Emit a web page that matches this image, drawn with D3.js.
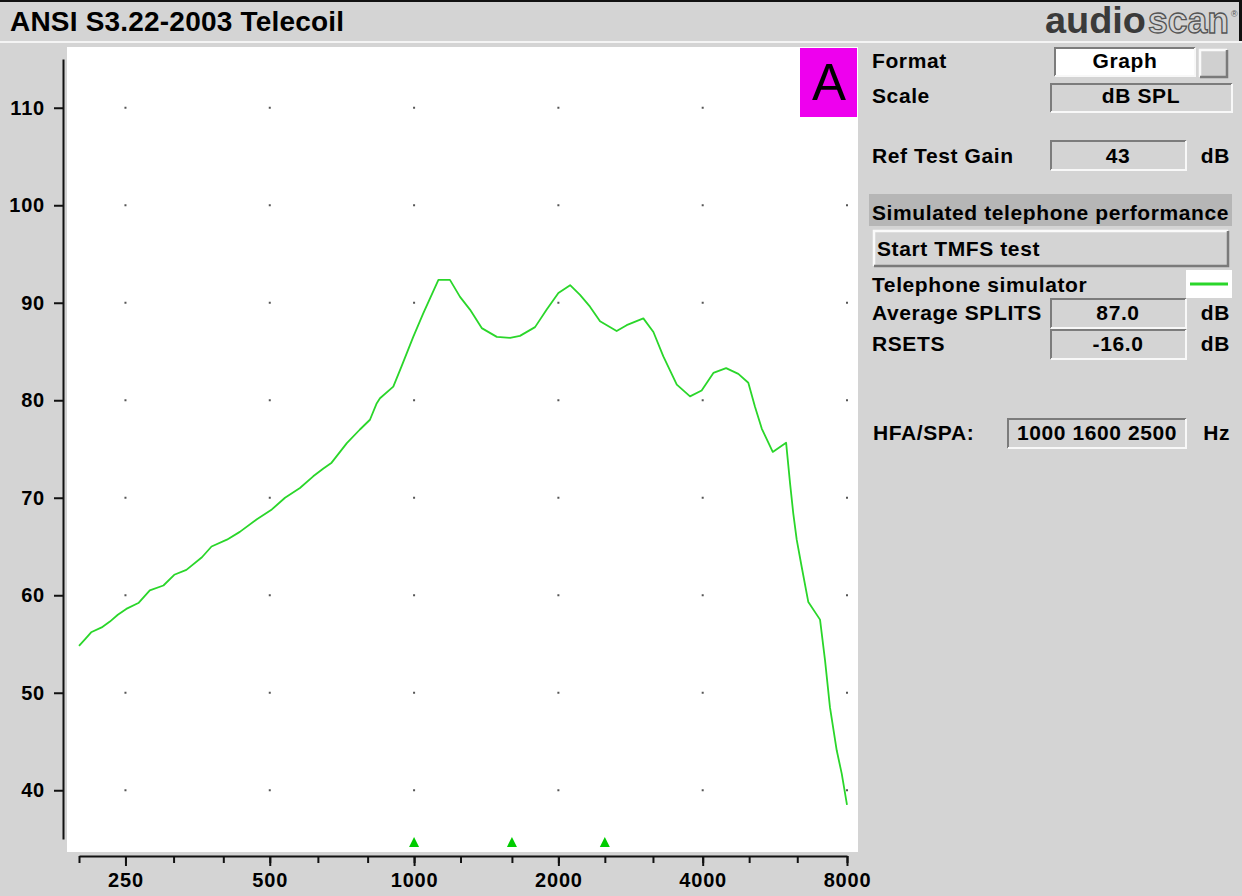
<!DOCTYPE html>
<html>
<head>
<meta charset="utf-8">
<script src="https://cdn.jsdelivr.net/npm/d3@7"></script>
<style>
  html, body { margin: 0; padding: 0; background: #d4d4d4; }
  svg { display: block; }
  text { font-family: "Liberation Sans", Arial, sans-serif; }
</style>
</head>
<body>
<svg id="chart" width="1242" height="896"></svg>
<script>
// ---------- data ----------
const freqs = [200, 206, 212, 223, 232, 241, 251, 266, 281, 300, 316, 335, 361, 378, 407, 433, 470, 505, 538, 578, 616, 647, 673, 724, 771, 809, 836, 849, 905, 942, 996, 1045, 1124, 1188, 1247, 1308, 1384, 1488, 1586, 1663, 1788, 1891, 2000, 2116, 2219, 2328, 2443, 2646, 2776, 3008, 3157, 3311, 3532, 3764, 3980, 4211, 4476, 4747, 4980, 5144, 5312, 5600, 5971, 6085, 6180, 6283, 6436, 6644, 7028, 7200, 7372, 7614, 7800, 8000];
const splDb = [54.8, 55.5, 56.2, 56.7, 57.3, 58.0, 58.6, 59.2, 60.5, 61.0, 62.1, 62.6, 63.9, 65.0, 65.7, 66.5, 67.8, 68.8, 70.0, 71.0, 72.2, 73.0, 73.6, 75.6, 77.0, 78.0, 79.7, 80.2, 81.4, 83.5, 86.5, 88.9, 92.35, 92.35, 90.6, 89.3, 87.4, 86.5, 86.4, 86.6, 87.5, 89.3, 91.0, 91.8, 90.8, 89.6, 88.1, 87.1, 87.7, 88.4, 87.0, 84.5, 81.6, 80.4, 81.0, 82.8, 83.3, 82.7, 81.8, 79.3, 77.1, 74.7, 75.65, 71.5, 68.4, 65.7, 62.9, 59.3, 57.5, 53.3, 48.5, 44.1, 41.7, 38.5];
const thirdOctaveTicks = [200, 250, 315, 400, 500, 630, 800, 1000, 1250, 1600, 2000, 2500, 3150, 4000, 5000, 6300, 8000];
const labelFreqs = [250, 500, 1000, 2000, 4000, 8000];
const yTicks = [40, 50, 60, 70, 80, 90, 100, 110];
const hfaFreqs = [1000, 1600, 2500];

const title = "ANSI S3.22-2003 Telecoil";
const panelRows = {
  format: "Graph", scale: "dB SPL", refTestGain: "43",
  avgSplits: "87.0", rsets: "-16.0", hfa: "1000 1600 2500"
};

// ---------- setup ----------
const svg = d3.select("#chart");
const BG = "#d4d4d4";
const GREEN = "#2ad62a";

svg.append("rect").attr("width", 1242).attr("height", 896).attr("fill", BG);

// title bar
svg.append("rect").attr("x", 0).attr("y", 0).attr("width", 1242).attr("height", 2).attr("fill", "#111");
svg.append("rect").attr("x", 1239).attr("y", 0).attr("width", 3).attr("height", 41).attr("fill", "#111");
svg.append("rect").attr("x", 0).attr("y", 41).attr("width", 1242).attr("height", 2).attr("fill", "#f4f4f4");
svg.append("text").attr("x", 10).attr("y", 31)
  .attr("font-size", 28).attr("font-weight", "bold").attr("fill", "#000")
  .attr("letter-spacing", 0.2).text(title);

// logo
const logo = svg.append("g");
logo.append("text").attr("x", 1045).attr("y", 33).attr("font-size", 36).attr("font-weight", "bold")
  .attr("fill", "#3a3a3a").attr("textLength", 101).attr("lengthAdjust", "spacingAndGlyphs").text("audio");
logo.append("text").attr("x", 1148).attr("y", 33).attr("font-size", 36).attr("font-weight", "bold")
  .attr("fill", BG).attr("stroke", "#555").attr("stroke-width", 1.3)
  .attr("textLength", 81).attr("lengthAdjust", "spacingAndGlyphs").text("scan");
logo.append("text").attr("x", 1231).attr("y", 17).attr("font-size", 9).attr("fill", "#555").text("®");

// ---------- plot ----------
const x = d3.scaleLog().domain([200, 8000]).range([79, 847]);
const y = d3.scaleLinear().domain([35, 115]).range([839, 59]);

svg.append("rect").attr("x", 67).attr("y", 47).attr("width", 791).attr("height", 805).attr("fill", "#fff");

// grid dots
const dots = [];
labelFreqs.forEach(f => yTicks.forEach(v => dots.push([f, v])));
svg.append("g").selectAll("rect").data(dots).join("rect")
  .attr("x", d => x(d[0]) - 1).attr("y", d => y(d[1]) - 1)
  .attr("width", 2).attr("height", 2).attr("fill", "#555");

// axes
const axisFont = g => g.selectAll("text")
  .attr("font-family", "Liberation Sans, Arial, sans-serif")
  .attr("font-size", 20).attr("font-weight", "bold").attr("fill", "#000")
  .attr("letter-spacing", 0.8);

const xMinor = svg.append("g").attr("transform", "translate(0,856)")
  .call(d3.axisBottom(x).tickValues(thirdOctaveTicks).tickSize(7).tickSizeOuter(0).tickFormat(""));
const xMajor = svg.append("g").attr("transform", "translate(0,856)")
  .call(d3.axisBottom(x).tickValues(labelFreqs).tickSize(10).tickSizeOuter(0).tickPadding(7).tickFormat(d3.format("d")));
xMajor.select(".domain").remove();
[xMinor, xMajor].forEach(g => {
  g.selectAll("line").attr("stroke", "#111").attr("stroke-width", 2);
  g.select(".domain").attr("stroke", "#111").attr("stroke-width", 2);
});
xMajor.call(axisFont);

const yAx = svg.append("g").attr("transform", "translate(63,0)")
  .call(d3.axisLeft(y).tickValues(yTicks).tickSize(9).tickSizeOuter(0).tickPadding(9).tickFormat(d3.format("d")));
yAx.selectAll("line").attr("stroke", "#111").attr("stroke-width", 2);
yAx.select(".domain").attr("stroke", "#111").attr("stroke-width", 2);
yAx.call(axisFont);

// curve
const data = freqs.map((f, i) => ({ f, v: splDb[i] }));
svg.append("path").datum(data)
  .attr("fill", "none").attr("stroke", GREEN).attr("stroke-width", 1.8)
  .attr("stroke-linejoin", "round")
  .attr("d", d3.line().x(d => x(d.f)).y(d => y(d.v)));

// HFA triangles
svg.append("g").selectAll("path").data(hfaFreqs).join("path")
  .attr("d", f => { const cx = x(f); return `M${cx - 5},847 L${cx + 5},847 L${cx},837 Z`; })
  .attr("fill", "#00cc00");

// "A" badge
svg.append("rect").attr("x", 800).attr("y", 48).attr("width", 57).attr("height", 69).attr("fill", "#ee00ee");
svg.append("text").attr("x", 829).attr("y", 100).attr("text-anchor", "middle")
  .attr("font-size", 51).attr("fill", "#000").text("A");

// ---------- right panel ----------
const panel = svg.append("g");
function label(txt, xx, yy, anchor) {
  panel.append("text").attr("x", xx).attr("y", yy).attr("text-anchor", anchor || "start")
    .attr("font-size", 21).attr("font-weight", "bold").attr("fill", "#000")
    .attr("letter-spacing", 0.6).text(txt);
}
function sunken(x0, y0, w, h, fill) {
  panel.append("rect").attr("x", x0).attr("y", y0).attr("width", w).attr("height", h).attr("fill", fill);
  panel.append("path").attr("d", `M${x0},${y0 + h} L${x0},${y0} L${x0 + w},${y0}`)
    .attr("fill", "none").attr("stroke", "#7c7c7c").attr("stroke-width", 2);
  panel.append("path").attr("d", `M${x0},${y0 + h} L${x0 + w},${y0 + h} L${x0 + w},${y0}`)
    .attr("fill", "none").attr("stroke", "#f8f8f8").attr("stroke-width", 2);
}
function raised(x0, y0, w, h, fill) {
  panel.append("rect").attr("x", x0).attr("y", y0).attr("width", w).attr("height", h).attr("fill", fill);
  panel.append("path").attr("d", `M${x0},${y0 + h} L${x0},${y0} L${x0 + w},${y0}`)
    .attr("fill", "none").attr("stroke", "#fafafa").attr("stroke-width", 2.5);
  panel.append("path").attr("d", `M${x0},${y0 + h} L${x0 + w},${y0 + h} L${x0 + w},${y0}`)
    .attr("fill", "none").attr("stroke", "#7a7a7a").attr("stroke-width", 2.5);
}

// Format
label("Format", 872, 68);
sunken(1055, 48, 140, 28, "#fff");
label(panelRows.format, 1125, 68, "middle");
raised(1200, 50, 27, 27, "#d0d0d0");

// Scale
label("Scale", 872, 103);
sunken(1051, 84, 181, 28, BG);
label(panelRows.scale, 1141, 103, "middle");

// Ref Test Gain
label("Ref Test Gain", 872, 163);
sunken(1051, 141, 135, 29, BG);
label(panelRows.refTestGain, 1118, 163, "middle");
label("dB", 1230, 163, "end");

// Simulated telephone performance header
panel.append("rect").attr("x", 869).attr("y", 194).attr("width", 363).attr("height", 32).attr("fill", "#b6b6b6");
label("Simulated telephone performance", 872, 220);

// Start TMFS test button
raised(874, 231, 354, 35, BG);
label("Start TMFS test", 877, 256);

// Telephone simulator legend
label("Telephone simulator", 872, 292);
panel.append("rect").attr("x", 1186).attr("y", 270).attr("width", 46).attr("height", 28).attr("fill", "#fff");
panel.append("line").attr("x1", 1190).attr("x2", 1228).attr("y1", 284).attr("y2", 284)
  .attr("stroke", GREEN).attr("stroke-width", 3);

// Average SPLITS
label("Average SPLITS", 872, 320);
sunken(1051, 299, 135, 29, BG);
label(panelRows.avgSplits, 1118, 320, "middle");
label("dB", 1230, 320, "end");

// RSETS
label("RSETS", 872, 351);
sunken(1051, 330, 135, 29, BG);
label(panelRows.rsets, 1118, 351, "middle");
label("dB", 1230, 351, "end");

// HFA/SPA
label("HFA/SPA:", 873, 440);
sunken(1008, 419, 178, 29, BG);
label(panelRows.hfa, 1097, 440, "middle");
label("Hz", 1230, 440, "end");
</script>
</body>
</html>
